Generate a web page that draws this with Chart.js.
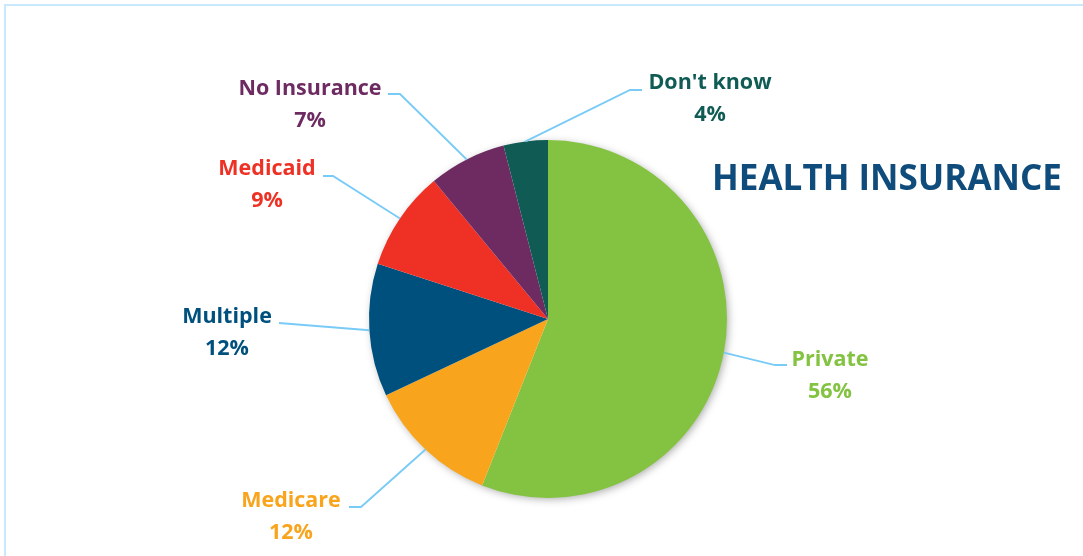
<!DOCTYPE html>
<html>
<head>
<meta charset="utf-8">
<script src="https://cdn.jsdelivr.net/npm/chart.js@4/dist/chart.umd.min.js"></script>
<style>
  html, body { margin: 0; padding: 0; background: #fff; }
  #wrap { width: 1083px; height: 556px; position: relative; }
</style>
</head>
<body>
<div id="wrap"><canvas id="pieChart" width="1083" height="556"></canvas></div>
<script>
// data
const categories = ["Private", "Medicare", "Multiple", "Medicaid", "No Insurance", "Don't know"];
const shares = [56, 12, 12, 9, 7, 4];
const sliceColors = ["#84C341", "#F8A51D", "#00507E", "#EE3124", "#6E2B62", "#105C55"];
const chartTitle = "HEALTH INSURANCE";

// label layout: text centre + baseline, elbow and end of the leader line
const labelLayout = [
  { x: 830, y: 366, elbow: [775, 365], end: [787, 365] },
  { x: 291, y: 507, elbow: [361, 507], end: [349, 507] },
  { x: 227, y: 323, elbow: null, end: [279, 323] },
  { x: 267, y: 175, elbow: [333, 176], end: [323, 176] },
  { x: 310, y: 95, elbow: [400, 94], end: [388, 94] },
  { x: 710, y: 89, elbow: [630, 90], end: [642, 90] }
];

const FONT = "'Open Sans', 'DejaVu Sans', sans-serif";

const decorPlugin = {
  id: "decor",
  beforeDraw(chart) {
    const ctx = chart.ctx;
    ctx.save();
    ctx.fillStyle = "#fff";
    ctx.fillRect(0, 0, chart.width, chart.height);
    // frame
    ctx.strokeStyle = "#C8E8FB";
    ctx.lineWidth = 2;
    ctx.strokeRect(5, 5, chart.width + 20, chart.height + 20);
    ctx.restore();
  },
  beforeDatasetsDraw(chart) {
    const arc = chart.getDatasetMeta(0).data[0];
    if (!arc) return;
    const ctx = chart.ctx;
    ctx.save();
    ctx.shadowColor = "rgba(0,0,0,0.35)";
    ctx.shadowBlur = 8;
    ctx.shadowOffsetX = 2;
    ctx.shadowOffsetY = 2;
    ctx.fillStyle = "#fff";
    ctx.beginPath();
    ctx.arc(arc.x, arc.y, arc.outerRadius - 1, 0, Math.PI * 2);
    ctx.fill();
    ctx.restore();
  },
  afterDatasetsDraw(chart) {
    const ctx = chart.ctx;
    const meta = chart.getDatasetMeta(0);
    ctx.save();
    meta.data.forEach((arc, i) => {
      const lay = labelLayout[i];
      const mid = (arc.startAngle + arc.endAngle) / 2;
      const ax = arc.x + Math.cos(mid) * arc.outerRadius;
      const ay = arc.y + Math.sin(mid) * arc.outerRadius;
      ctx.strokeStyle = "#78CBF6";
      ctx.lineWidth = 1.8;
      ctx.beginPath();
      ctx.moveTo(ax, ay);
      if (lay.elbow) ctx.lineTo(lay.elbow[0], lay.elbow[1]);
      ctx.lineTo(lay.end[0], lay.end[1]);
      ctx.stroke();

      ctx.fillStyle = sliceColors[i];
      ctx.font = "bold 21.5px " + FONT;
      ctx.textAlign = "center";
      ctx.textBaseline = "alphabetic";
      ctx.fillText(categories[i], lay.x, lay.y);
      ctx.fillText(shares[i] + "%", lay.x, lay.y + 32);
    });

    // title
    ctx.fillStyle = "#0F4C7C";
    ctx.font = "bold 35px " + FONT;
    ctx.textAlign = "center";
    ctx.fillText(chartTitle, 887, 190, 350);
    ctx.restore();
  }
};

new Chart(document.getElementById("pieChart").getContext("2d"), {
  type: "pie",
  data: {
    labels: categories,
    datasets: [{
      data: shares,
      backgroundColor: sliceColors,
      borderWidth: 0
    }]
  },
  options: {
    responsive: false,
    animation: false,
    layout: { padding: { top: 140, bottom: 58, left: 369, right: 356 } },
    plugins: {
      legend: { display: false },
      tooltip: { enabled: false },
      title: { display: false }
    }
  },
  plugins: [decorPlugin]
});
</script>
</body>
</html>
